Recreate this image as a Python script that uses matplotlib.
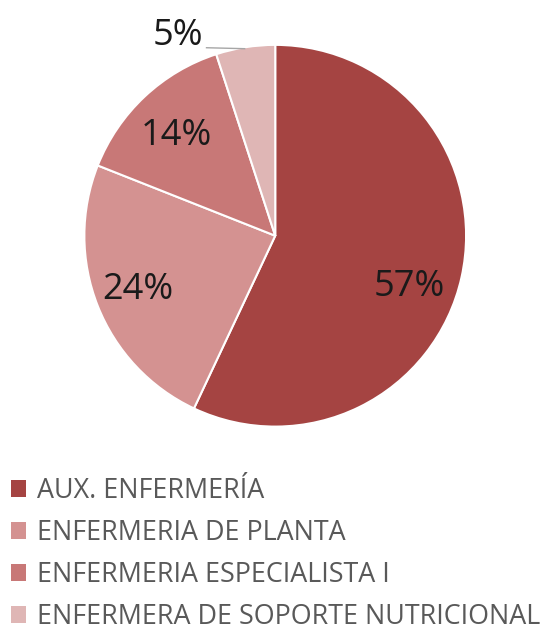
import matplotlib.pyplot as plt
from matplotlib.patches import Patch

categories = ["AUX. ENFERMERÍA", "ENFERMERIA DE PLANTA",
              "ENFERMERIA ESPECIALISTA I", "ENFERMERA DE SOPORTE NUTRICIONAL"]
values = [57, 24, 14, 5]
colors = ["#A54442", "#D49291", "#C87877", "#DFB6B5"]
label_pos = [(0.70, -0.27), (-0.72, -0.285), (-0.52, 0.525), (-0.51, 1.045)]

plt.rcParams['font.family'] = ['Open Sans', 'DejaVu Sans']

fig = plt.figure(figsize=(5.51, 6.32), dpi=100)
ax = fig.add_axes([0.153, 0.325, 0.693, 0.604])

wedges, _ = ax.pie(values, colors=colors, startangle=90, counterclock=False,
                   radius=1, wedgeprops=dict(edgecolor='white', linewidth=1.5))
ax.set_xlim(-1, 1)
ax.set_ylim(-1, 1)
ax.set_aspect('equal')
ax.axis('off')

for v, (x, y) in zip(values, label_pos):
    ax.text(x, y, f"{v}%", ha='center', va='center', fontsize=26, color='#1a1a1a')

# leader line for the small slice
ax.plot([-0.36, -0.16], [0.985, 0.98], color='#a6a6a6', lw=1, clip_on=False)

handles = [Patch(facecolor=c, edgecolor='none') for c in colors]
fig.legend(handles, categories, loc='upper left', bbox_to_anchor=(0.02, 0.245),
           frameon=False, fontsize=19.4, labelcolor='#595959',
           handlelength=0.55, handleheight=0.6, handletextpad=0.4,
           labelspacing=0.52, borderpad=0, borderaxespad=0)

fig.savefig("out.png", dpi=100)
